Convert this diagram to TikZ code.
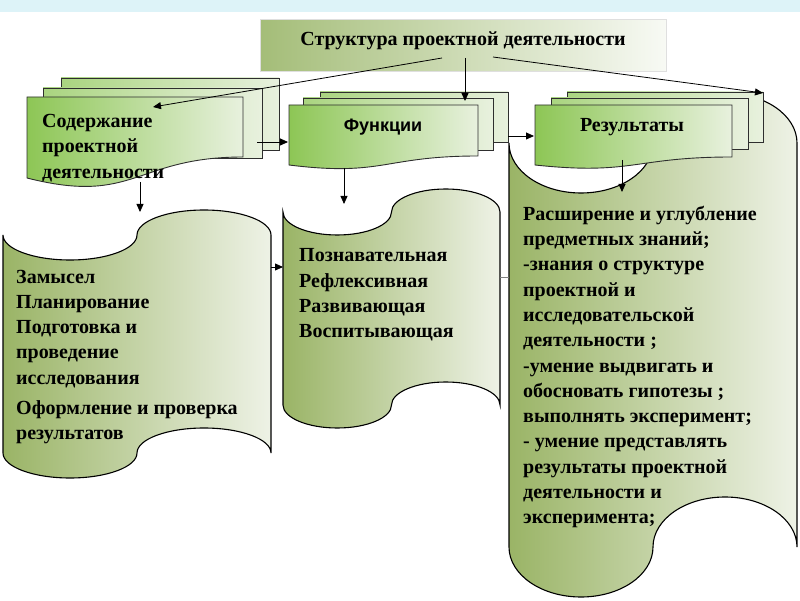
\documentclass[tikz,border=0pt]{standalone}
\usepackage{fontspec}
\setmainfont{Liberation Serif}
\setsansfont{Liberation Sans}
\usetikzlibrary{positioning,arrows.meta}
\definecolor{band}{HTML}{DDF3F8}
\definecolor{olive}{HTML}{9AB466}
\definecolor{paleolive}{HTML}{EEF2E6}
\definecolor{leaf}{HTML}{8DC655}
\definecolor{paleleaf}{HTML}{E8F1DE}
\definecolor{ttlgreen}{HTML}{A4BD78}
\definecolor{ink}{HTML}{2E2E2E}

% punched tape: style, left, right, top corner, bottom corner, bend
\newcommand{\punchtape}[6]{%
  \pgfmathsetmacro\rx{(#3-#2)/4}%
  \draw[#1] (#2,#4) arc[start angle=180,end angle=360,x radius=\rx pt,y radius=#6pt]
    arc[start angle=180,end angle=0,x radius=\rx pt,y radius=#6pt] -- (#3,#5)
    arc[start angle=0,end angle=180,x radius=\rx pt,y radius=#6pt]
    arc[start angle=0,end angle=-180,x radius=\rx pt,y radius=#6pt] -- cycle;}
% front sheet with wavy bottom: style, left, right, top, bottom right, bottom left
\newcommand{\docpage}[6]{%
  \pgfmathsetmacro\mx{(#2+#3)/2}%
  \pgfmathsetmacro\cy{#5+2.31*(#6-#5)}%
  \draw[#1] (#2,#4) -- (#3,#4) -- (#3,#5) .. controls (\mx,#5) and (\mx,\cy) .. (#2,#6) -- cycle;}

\begin{document}
\begin{tikzpicture}[x=1pt, y=1pt,
  punch/.style = {draw=black, line width=1.1pt, left color=olive, right color=paleolive},
  sheet/.style = {draw=ink, line width=0.9pt, left color=leaf!75, right color=paleleaf},
  front/.style = {draw=ink, line width=0.9pt, left color=leaf, right color=paleleaf},
  titlebox/.style = {draw=gray!25, line width=1pt, left color=ttlgreen, right color=ttlgreen!8,
    minimum width=406pt, minimum height=52pt, text depth=14pt},
  arr/.style = {-{Triangle[length=8pt,width=7pt]}, line width=0.8pt},
  txt/.style = {font=\bfseries\fontsize{20}{25.3}\selectfont, align=left, inner sep=0pt, anchor=west}]
\useasboundingbox (0,0) rectangle (800,600);
\fill[band] (0,588) rectangle (800,600);
\node[titlebox, font=\bfseries\fontsize{20}{24}\selectfont] (top) at (463,554) {Структура проектной деятельности};

% big tapes
\punchtape{punch}{509}{797}{457}{53}{50}
\punchtape{punch}{3}{271}{365}{147}{25}
\punchtape{punch}{283}{500}{388}{195}{23}

% stacks of sheets
\draw[sheet] (61,450) rectangle (279,522);
\draw[sheet] (43,442) rectangle (262,512);
\docpage{front}{27}{243}{503}{443}{422}
\draw[sheet] (320,458) rectangle (508,508);
\draw[sheet] (303,450) rectangle (493,502);
\docpage{front}{289}{478}{495}{444}{435}
\draw[sheet] (567,458) rectangle (763,508);
\draw[sheet] (551,451) rectangle (748,502);
\docpage{front}{535}{732}{495}{443}{435}

\node[txt] (sod) at (42,452) {Содержание\\проектной\\деятельности};
\node[font=\sffamily\bfseries\fontsize{18}{22}\selectfont] (fun) at (383,473) {Функции};
\node[font=\bfseries\fontsize{20}{24}\selectfont] (res) at (632,473) {Результаты};

\node[txt] (plan) at (16,243) {Замысел\\Планирование\\Подготовка и\\проведение\\исследования\\[5pt]Оформление и проверка\\результатов};
\node[txt] (role) at (299,305) {Познавательная\\Рефлексивная\\Развивающая\\Воспитывающая};
\node[txt] (gain) at (523,233) {Расширение и углубление\\предметных знаний;\\-знания о структуре\\проектной и\\исследовательской\\деятельности ;\\-умение выдвигать и\\обосновать гипотезы ;\\выполнять эксперимент;\\- умение представлять\\результаты проектной\\деятельности и\\эксперимента;};

% arrow ends
\coordinate (sodin) at (153,493);
\coordinate (funin) at (465,499);
\coordinate (resin) at (763,507);
\coordinate (s1) at (257,458);
\coordinate (f1) at (288,458);
\coordinate (f2) at (508,464);
\coordinate (r1) at (534,464);
\coordinate (sd) at (140,418);
\coordinate (pt) at (140,388);
\coordinate (fd) at (344,432);
\coordinate (rt) at (344,396);
\coordinate (rd) at (622,440);
\coordinate (gt) at (622,408);
\coordinate (pr) at (271,333);
\coordinate (rl) at (283,333);
\coordinate (ro) at (500,323);
\coordinate (gl) at (509,323);

\draw[arr] ([shift={(-21,-12)}]top.center) -- (sodin);
\draw[arr] ([shift={(2,-12)}]top.center) -- (funin);
\draw[arr] ([shift={(30,-11)}]top.center) -- (resin);
\path (s1) edge [arr] (f1);
\path (f2) edge [arr] (r1);
\path (sd) edge [arr] (pt);
\path (fd) edge [arr] (rt);
\path (rd) edge [arr] (gt);
\path (pr) edge [arr] (rl);
\draw[gray, line width=0.8pt] (ro) -- (gl);
\end{tikzpicture}
\end{document}
